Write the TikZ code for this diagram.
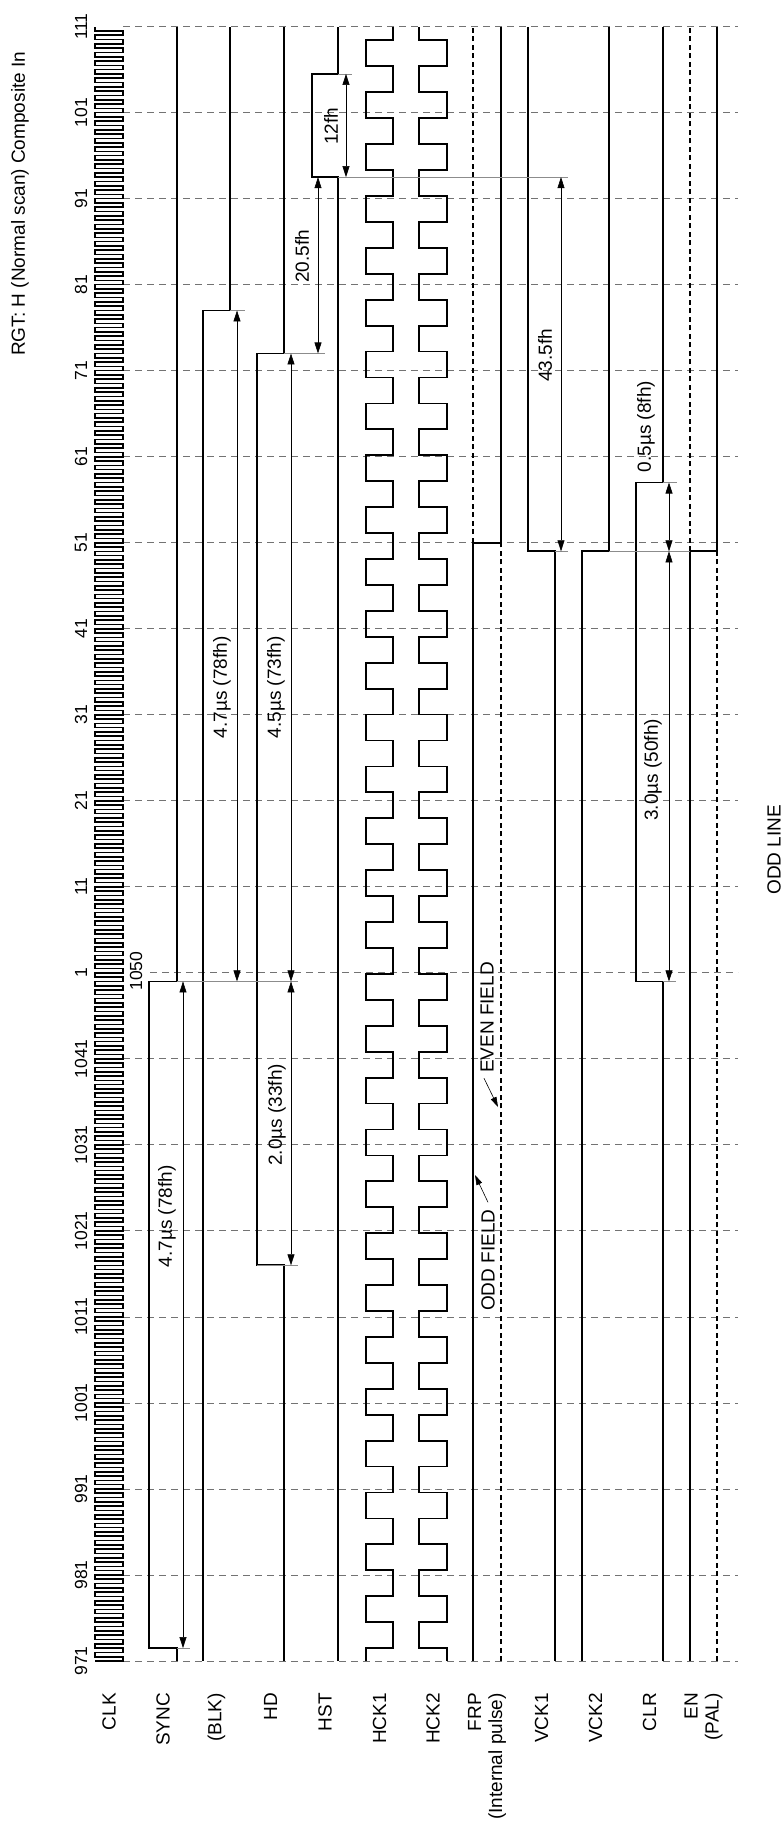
\documentclass[tikz,border=0pt]{standalone}
\usepackage{fontspec}
\setmainfont{Liberation Sans}
\usetikzlibrary{arrows.meta}

\tikzset{
  sig/.style={line width=1.8pt},
  sigdash/.style={line width=1.8pt, dash pattern=on 5pt off 3.5pt},
  tickline/.style={line width=0.8pt, black!55, dash pattern=on 7pt off 5pt},
  extline/.style={line width=0.6pt, black!45},
  dimline/.style={line width=0.6pt, {Triangle[length=11pt,width=7pt]}-{Triangle[length=11pt,width=7pt]}},
  ptr/.style={line width=0.6pt, -{Triangle[length=10pt,width=6pt]}},
  lbl/.style={rotate=90, inner sep=0pt, font=\fontsize{19}{21}\selectfont},
  ticklbl/.style={rotate=90, inner sep=0pt, font=\fontsize{17.5}{20}\selectfont}
}

\begin{document}
\begin{tikzpicture}[x=1pt,y=8.602pt]
  \useasboundingbox (0,-19.065) rectangle (784,193.095);

  % count grid
  \foreach \n in {0,10,...,70} \draw[tickline] (123,\n) -- (738,\n);
  \foreach \n in {90,100,...,190} \draw[tickline] (123,\n) -- (738,\n);
  \draw[tickline] (150,80) -- (738,80);
  \foreach \n in {0,10,...,190} {
    \pgfmathtruncatemacro\cnt{\n<80 ? 971+\n : \n-79}
    \node[ticklbl] (t\n) at (81,\n) {\cnt};
  }
  \node[ticklbl] (t1050) at (136,80.2) {1050};

  % CLK
  \draw[line width=1.6pt] (95,0) \foreach \i in {0,...,189} { -- (123,\i) -- (123,{\i+0.5}) -- (95,{\i+0.5}) -- (95,{\i+1}) };

  % SYNC, BLK, HD, HST
  \draw[sig] (177,0) -- (177,1.5) -- (149,1.5) -- (149,79) -- (177,79) -- (177,190);
  \draw[sig] (203,0) -- (203,157) -- (230,157) -- (230,190);
  \draw[sig] (284,0) -- (284,46) -- (257,46) -- (257,152) -- (284,152) -- (284,190);
  \draw[sig] (338,0) -- (338,172.5) -- (312,172.5) -- (312,184.5) -- (338,184.5) -- (338,190);

  % HCK1, HCK2
  \foreach \a/\b in {366/393, 447/419}
    \draw[sig] (\a,0) \foreach \k in {0,2,...,60} { -- (\a,{1.5+3.0145*\k}) -- (\b,{1.5+3.0145*\k})
      -- (\b,{1.5+3.0145*(\k+1)}) -- (\a,{1.5+3.0145*(\k+1)}) } -- (\a,188.4) -- (\b,188.4) -- (\b,190);

  % FRP
  \draw[sig] (473,0) -- (473,130) -- (501,130) -- (501,190);
  \draw[sigdash] (501,0) -- (501,130);
  \draw[sigdash] (473,130) -- (473,190);

  % VCK1, VCK2, CLR
  \draw[sig] (555,0) -- (555,129) -- (528,129) -- (528,190);
  \draw[sig] (582,0) -- (582,129) -- (609,129) -- (609,190);
  \draw[sig] (663,0) -- (663,79) -- (636,79) -- (636,137) -- (663,137) -- (663,190);

  % EN (PAL)
  \draw[sig] (690,0) -- (690,129) -- (717,129) -- (717,190);
  \draw[sigdash] (717,0) -- (717,129);
  \draw[sigdash] (690,129) -- (690,190);

  % extension lines
  \draw[extline] (177,1.5) -- (190,1.5);
  \draw[extline] (177,79) -- (298,79);
  \draw[extline] (230,157) -- (245,157);
  \draw[extline] (284,152) -- (325,152);
  \draw[extline] (257,46) -- (298,46);
  \draw[extline] (338,172.5) -- (568,172.5);
  \draw[extline] (338,184.5) -- (352,184.5);
  \draw[extline] (555,129) -- (568,129);
  \draw[extline] (609,129) -- (690,129);
  \draw[extline] (663,79) -- (676,79);
  \draw[extline] (663,137) -- (677,137);

  % widths
  \draw[dimline] (183,1.5) -- (183,79);
  \draw[dimline] (237,79) -- (237,157);
  \draw[dimline] (291,79) -- (291,152);
  \draw[dimline] (291,46) -- (291,79);
  \draw[dimline] (318,152) -- (318,172.5);
  \draw[dimline] (346,172.5) -- (346,184.5);
  \draw[dimline] (561,129) -- (561,172.5);
  \draw[dimline] (669,79) -- (669,129);
  \draw[dimline] (669,129) -- (669,137);

  \node[lbl] (wsync) at (167,51.7) {4.7µs (78fh)};
  \node[lbl] (wblk) at (222,113.2) {4.7µs (78fh)};
  \node[lbl] (whd) at (276,113.2) {4.5µs (73fh)};
  \node[lbl] (whdlo) at (277,63.5) {2.0µs (33fh)};
  \node[lbl] (whst) at (302,163.3) {20.5fh};
  \node[lbl] (wpulse) at (331,178.4) {12fh};
  \node[lbl] (wvck) at (545,151.8) {43.5fh};
  \node[lbl] (wclr) at (653,103.6) {3.0µs (50fh)};
  \node[lbl] (wclrhi) at (646,143.5) {0.5µs (8fh)};

  % fields
  \node[lbl] (even) at (487,74.8) {EVEN FIELD};
  \coordinate (evenpt) at (498,64.4);
  \draw[ptr] ([shift={(-3pt,-5pt)}]even.west) -- (evenpt);
  \node[lbl] (odd) at (488,46.6) {ODD FIELD};
  \coordinate (oddpt) at (475,56.5);
  \draw[ptr] ([yshift=7pt]odd.east) -- (oddpt);

  % signal names
  \foreach \x/\nm/\txt in {109/clk/CLK, 163/sync/SYNC, 216.5/blk/(BLK), 270.5/hd/HD, 325/hst/HST,
      379.5/hckone/HCK1, 433/hcktwo/HCK2, 487/frp/{FRP\\(Internal pulse)}, 541.5/vckone/VCK1,
      595.5/vcktwo/VCK2, 649.5/clr/CLR, 703.5/en/{EN\\(PAL)}}
    \node[lbl, anchor=east, align=right] (n\nm) at (\x,-3.72) {\txt};

  \node[lbl] (title) at (20,169.4) {RGT: H (Normal scan) Composite In};
  \node[lbl] (oddline) at (774,94.3) {ODD LINE};
\end{tikzpicture}
\end{document}
